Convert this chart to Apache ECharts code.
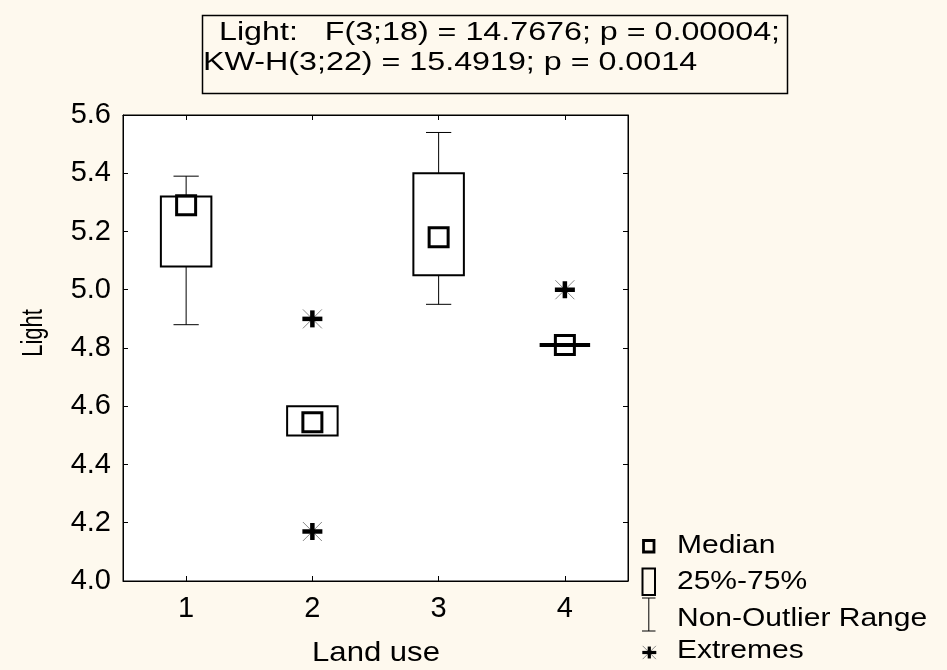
<!DOCTYPE html>
<html>
<head>
<meta charset="utf-8">
<script src="https://cdn.jsdelivr.net/npm/echarts@6/dist/echarts.min.js"></script>
<style>
  html, body { margin: 0; padding: 0; background: #fef9ee; }
  #chart { width: 947px; height: 670px; }
</style>
</head>
<body>
<div id="chart"></div>
<script>
// Land use groups on the x axis
const categories = ['1', '2', '3', '4'];

// Box-plot statistics of "Light" per land-use group
const rangeLow  = [4.88, 4.50, 4.95, 4.81];   // non-outlier minimum
const quartile1 = [5.08, 4.50, 5.05, 4.81];   // 25%
const medians   = [5.29, 4.545, 5.18, 4.81];  // median
const quartile3 = [5.32, 4.60, 5.40, 4.81];   // 75%
const rangeHigh = [5.39, 4.60, 5.54, 4.81];   // non-outlier maximum

// Extreme values (group, value)
const extremeGroups = ['2', '2', '4'];
const extremeValues = [4.90, 4.17, 5.00];

// Value axis range
const yMin = 4.0, yMax = 5.6, yStep = 0.2;

// Texts
const statLine1 = 'Light:   F(3;18) = 14.7676; p = 0.00004;';
const statLine2 = 'KW-H(3;22) = 15.4919; p = 0.0014';
const xTitle = 'Land use';
const yTitle = 'Light';
const legendLabels = ['Median', '25%-75%', 'Non-Outlier Range', 'Extremes'];

const FONT = '"Liberation Sans", Arial, Helvetica, sans-serif';
const INK = '#000';

const boxRows = categories.map((c, i) =>
  [i, rangeLow[i], quartile1[i], medians[i], quartile3[i], rangeHigh[i]]);
const extremeRows = extremeGroups.map((g, i) =>
  [categories.indexOf(g), extremeValues[i]]);

function line(x1, y1, x2, y2, w, color) {
  return { type: 'line', shape: { x1, y1, x2, y2 },
           style: { stroke: color || INK, lineWidth: w, fill: null } };
}

// asterisk: bold plus with thin grey diagonals
function starShapes(cx, cy, half, bold) {
  const d = half * 0.95;
  return [
    line(cx - d, cy - d, cx + d, cy + d, 1, '#888'),
    line(cx - d, cy + d, cx + d, cy - d, 1, '#888'),
    line(cx - half, cy, cx + half, cy, bold, INK),
    line(cx, cy - half * 0.85, cx, cy + half * 0.85, bold, INK)
  ];
}

function renderBox(params, api) {
  const i = api.value(0);
  const band = api.size([1, 0])[0];
  const boxW = band * 0.4;
  const capW = band * 0.2;
  const x = api.coord([i, api.value(3)])[0];
  const yLow = api.coord([i, api.value(1)])[1];
  const yQ1 = api.coord([i, api.value(2)])[1];
  const yMed = api.coord([i, api.value(3)])[1];
  const yQ3 = api.coord([i, api.value(4)])[1];
  const yHigh = api.coord([i, api.value(5)])[1];
  const children = [];
  // whiskers
  if (yHigh < yQ3 - 0.5) {
    children.push(line(x, yHigh, x, yQ3, 1));
    children.push(line(x - capW / 2, yHigh, x + capW / 2, yHigh, 1));
  }
  if (yLow > yQ1 + 0.5) {
    children.push(line(x, yQ1, x, yLow, 1));
    children.push(line(x - capW / 2, yLow, x + capW / 2, yLow, 1));
  }
  // 25%-75% box
  if (yQ1 - yQ3 < 1) {
    children.push(line(x - boxW / 2, yQ1, x + boxW / 2, yQ1, 4));
  } else {
    children.push({ type: 'rect',
      shape: { x: x - boxW / 2, y: yQ3, width: boxW, height: yQ1 - yQ3 },
      style: { fill: '#fff', stroke: INK, lineWidth: 2 } });
  }
  // median square
  const s = 19;
  children.push({ type: 'rect',
    shape: { x: x - s / 2, y: yMed - s / 2, width: s, height: s },
    style: { fill: null, stroke: INK, lineWidth: 3 } });
  return { type: 'group', children };
}

function renderExtreme(params, api) {
  const p = api.coord([api.value(0), api.value(1)]);
  return { type: 'group', children: starShapes(p[0], p[1], 10, 4.5) };
}

function textEl(text, x, y, size, sx, align, extra) {
  return Object.assign({
    type: 'text', x, y, scaleX: sx || 1,
    style: { text, fill: INK, fontFamily: FONT, fontSize: size,
             align: align || 'left', textAlign: align || 'left',
             verticalAlign: 'middle', textVerticalAlign: 'middle' }
  }, extra || {});
}

const legendX = 677;
const legendY = [546, 582.5, 619.5, 651.5];

const chart = echarts.init(document.getElementById('chart'), null, { renderer: 'canvas' });

const axisCommon = {
  axisLine: { show: true, onZero: false, lineStyle: { color: INK, width: 1 } },
  axisTick: { show: true, inside: true, length: 5, lineStyle: { color: INK, width: 1 } },
  splitLine: { show: false }
};

chart.setOption({
  backgroundColor: '#fef9ee',
  animation: false,
  grid: {
    left: 123, right: 319, top: 115, bottom: 89,
    show: true, backgroundColor: '#fff', borderColor: INK, borderWidth: 1
  },
  xAxis: [
    Object.assign({}, axisCommon, {
      type: 'category', data: categories, boundaryGap: true, position: 'bottom',
      axisTick: Object.assign({}, axisCommon.axisTick, { alignWithLabel: true }),
      axisLabel: { color: INK, fontFamily: FONT, fontSize: 29, margin: 13 }
    }),
    Object.assign({}, axisCommon, {
      type: 'category', data: categories, boundaryGap: true, position: 'top',
      axisTick: Object.assign({}, axisCommon.axisTick, { alignWithLabel: true }),
      axisLabel: { show: false }
    })
  ],
  yAxis: [
    Object.assign({}, axisCommon, {
      type: 'value', min: yMin, max: yMax, interval: yStep, position: 'left',
      axisLabel: { color: INK, fontFamily: FONT, fontSize: 29, margin: 12,
                   formatter: v => v.toFixed(1) }
    }),
    Object.assign({}, axisCommon, {
      type: 'value', min: yMin, max: yMax, interval: yStep, position: 'right',
      axisLabel: { show: false }
    })
  ],
  series: [
    { type: 'custom', name: 'box', xAxisIndex: 0, yAxisIndex: 0,
      data: boxRows, encode: { x: 0, y: [1, 2, 3, 4, 5] },
      renderItem: renderBox, z: 3 },
    { type: 'custom', name: 'extremes', xAxisIndex: 0, yAxisIndex: 0,
      data: extremeRows, encode: { x: 0, y: 1 },
      renderItem: renderExtreme, z: 4 }
  ],
  graphic: [
    // statistics box
    { type: 'rect', shape: { x: 202.5, y: 15.5, width: 585, height: 78 },
      style: { fill: null, stroke: INK, lineWidth: 1.5 } },
    textEl(statLine1, 219, 33, 26, 1.24),
    textEl(statLine2, 203, 63, 26, 1.24),
    // axis titles
    textEl(xTitle, 376, 653, 28, 1.11, 'center'),
    textEl(yTitle, 34, 333, 22, 1, 'center', { rotation: Math.PI / 2, scaleY: 1.3 }),
    // legend keys
    { type: 'rect', shape: { x: 643.5, y: 540.5, width: 10.5, height: 11.5 },
      style: { fill: null, stroke: INK, lineWidth: 2.8 } },
    { type: 'rect', shape: { x: 642.5, y: 568.5, width: 12.5, height: 26.5 },
      style: { fill: null, stroke: INK, lineWidth: 2 } },
    { type: 'group', children: [
      line(648.8, 598, 648.8, 631, 1),
      line(642, 598, 655.5, 598, 1),
      line(642, 631, 655.5, 631, 1)
    ] },
    { type: 'group', children: starShapes(649.3, 652.5, 7, 3.2) },
    textEl(legendLabels[0], legendX, legendY[0], 25, 1.2),
    textEl(legendLabels[1], legendX, legendY[1], 25, 1.2),
    textEl(legendLabels[2], legendX, legendY[2], 25, 1.2),
    textEl(legendLabels[3], legendX, legendY[3], 25, 1.2)
  ]
});
</script>
</body>
</html>
